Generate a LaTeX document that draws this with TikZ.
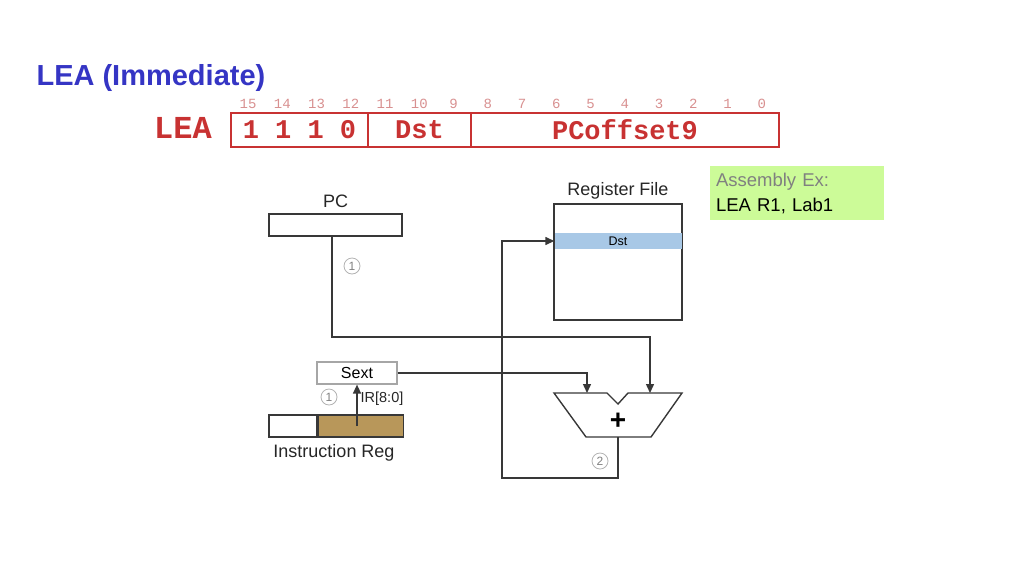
\documentclass[tikz,border=0pt]{standalone}
\usepackage{fontspec}
\setmainfont{Liberation Sans}
\newfontfamily\codefont{Liberation Mono}
\usetikzlibrary{arrows.meta, positioning}
\definecolor{titleblue}{HTML}{3535C4}
\definecolor{lc3red}{HTML}{C83232}
\definecolor{bitred}{HTML}{D89090}
\definecolor{wiregray}{HTML}{383838}
\definecolor{dstblue}{HTML}{A8C8E6}
\definecolor{irtan}{HTML}{B8975A}
\definecolor{notegreen}{HTML}{CCFB98}

\begin{document}
\begin{tikzpicture}[
    x=1pt, y=-1pt,
    field/.style={draw=lc3red, line width=1.3pt, minimum height=34pt, inner sep=0pt, text=lc3red, font=\codefont\bfseries\fontsize{27}{27}\selectfont},
    bitnum/.style={text=bitred, font=\codefont\fontsize{14}{14}\selectfont},
    reg/.style={draw=wiregray, line width=1.2pt, inner sep=0pt, minimum height=22pt},
    wire/.style={draw=wiregray, line width=1.4pt},
    arr/.style={-{Triangle[length=9pt, width=8pt]}},
    stepnum/.style={circle, draw=gray!60, text=gray, line width=.8pt, inner sep=0pt, minimum size=16pt, font=\fontsize{12}{12}\selectfont},
    lbl/.style={text=black!85, font=\fontsize{18}{18}\selectfont},
]
\useasboundingbox (0,0) rectangle (1024,576);

\node[anchor=base west, text=titleblue, font=\bfseries\fontsize{29}{29}\selectfont] (title) at (33,85) {LEA (Immediate)};

\node[field, minimum width=137pt] (opcode) at (299.5,130) {1 1 1 0};
\node[field, minimum width=103pt] (dstfield) at (419.5,130) {Dst};
\node[field, minimum width=308pt] (offset) at (625,130) {PCoffset9};
\node[left=15pt of opcode, text=lc3red, font=\codefont\bfseries\fontsize{32}{32}\selectfont, yshift=2pt] (opname) {LEA};
\foreach \b in {0,...,15}
  \node[bitnum] (bit\b) at ({779-34.25*(\b+0.5)},104) {\b};

\node[fill=notegreen, minimum width=174pt, minimum height=54pt, align=left, text width=162pt, inner sep=0pt,
      font=\fontsize{18.5}{25}\selectfont] (note) at (797,193)
  {\textcolor{gray}{Assembly Ex:}\\LEA R1, Lab1};

\node[reg, minimum width=133pt] (pc) at (335.5,225) {};
\node[lbl, above=2pt of pc] (pclabel) {PC};

\node[reg, minimum width=128pt, minimum height=116pt] (regfile) at (618,262) {};
\node[lbl, above=1pt of regfile] (rflabel) {Register File};
\node[fill=dstblue, minimum width=127pt, minimum height=16pt, inner sep=0pt, font=\fontsize{12.5}{12.5}\selectfont] (dst) at (618,241) {Dst};

\node[reg, draw=gray!70, minimum width=80pt, font=\fontsize{16}{16}\selectfont] (sext) at (357,373) {Sext};
\node[reg, minimum width=48pt] (irhi) at (293,426) {};
\node[reg, fill=irtan, minimum width=85pt, right=0pt of irhi] (irlo) {};
\node[lbl, anchor=north] (irlabel) at (334,441) {Instruction Reg};

\draw[wire] (554,393) -- (607,393) -- (618,404) -- (628,393) -- (682,393) -- (651,437) -- (586,437) -- cycle;
\node[font=\bfseries\fontsize{28}{28}\selectfont] (plus) at (618,421) {+};
\coordinate (alua) at (587,393);
\coordinate (alub) at (650,393);
\coordinate (aluout) at (618,437);
\coordinate (loop) at (502,478);

\draw[wire, arr] ([xshift=-3.5pt]pc.south) |- (400,337) -| (alub);
\draw[wire, arr] (sext.east) -| (alua);
\draw[wire, arr] (sext.south |- irlo.center) -- (sext.south);
\draw[wire, arr] (aluout) |- (loop) |- (dst.west);

\node[stepnum] (step1a) at (352,266) {1};
\node[stepnum] (step1b) at (329,397) {1};
\node[stepnum] (step2) at (600,461) {2};
\node[text=black!85, font=\fontsize{14.5}{14.5}\selectfont] (irbits) at (382,399) {IR[8:0]};
\end{tikzpicture}
\end{document}
